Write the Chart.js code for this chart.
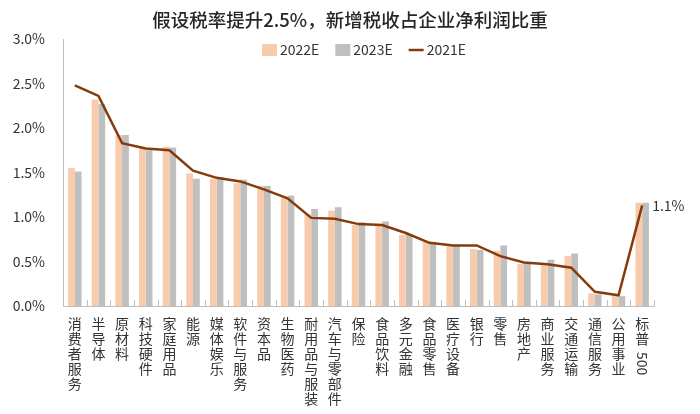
<!DOCTYPE html>
<html>
<head>
<meta charset="utf-8">
<script src="https://cdn.jsdelivr.net/npm/chart.js@4.4.0/dist/chart.umd.min.js"></script>
<style>
  html, body { margin: 0; padding: 0; background: #fff; }
  #wrap { width: 700px; height: 414px; }
</style>
</head>
<body>
<div id="wrap"><canvas id="taxChart"></canvas></div>
<script>
var sectors = ["消费者服务", "半导体", "原材料", "科技硬件", "家庭用品", "能源", "媒体娱乐", "软件与服务",
  "资本品", "生物医药", "耐用品与服装", "汽车与零部件", "保险", "食品饮料", "多元金融", "食品零售",
  "医疗设备", "银行", "零售", "房地产", "商业服务", "交通运输", "通信服务", "公用事业", "标普500"];
var share2022 = [1.55, 2.32, 1.92, 1.78, 1.79, 1.49, 1.43, 1.38, 1.35, 1.22, 1.03, 1.07, 0.91,
  0.90, 0.80, 0.72, 0.67, 0.64, 0.62, 0.47, 0.46, 0.56, 0.14, 0.11, 1.16];
var share2023 = [1.51, 2.27, 1.92, 1.75, 1.78, 1.43, 1.45, 1.42, 1.35, 1.24, 1.09, 1.11, 0.94,
  0.95, 0.81, 0.72, 0.68, 0.63, 0.68, 0.48, 0.52, 0.59, 0.13, 0.11, 1.16];
var share2021 = [2.48, 2.36, 1.83, 1.77, 1.75, 1.52, 1.44, 1.40, 1.31, 1.21, 0.99, 0.98, 0.92,
  0.91, 0.82, 0.71, 0.68, 0.68, 0.56, 0.49, 0.47, 0.43, 0.16, 0.12, 1.13];
var yMin = 0, yMax = 3, yStep = 0.5;
var chartTitle = "假设税率提升2.5%，新增税收占企业净利润比重";

var fontFamily = "'Noto Sans CJK SC', 'Noto Sans', sans-serif";
var textColor = "#333333";
var axisColor = "#bfbfbf";

// vertical labels: one character per line, "500" is drawn sideways by the plugin
function stackLabel(s) {
  if (s === "标普500") return ["标", "普"];
  return s.split("");
}

var extras = {
  id: "extras",
  afterDraw: function(chart) {
    var ctx = chart.ctx;
    var x = chart.scales.x;
    var area = chart.chartArea;
    var last = sectors.length - 1;

    // title, centred on the canvas
    ctx.save();
    ctx.fillStyle = "#262626";
    ctx.font = "500 18.5px " + fontFamily;
    ctx.textAlign = "center";
    ctx.textBaseline = "middle";
    ctx.fillText(chartTitle, chart.width / 2, 20);
    ctx.restore();

    // legend in one row inside the plot
    ctx.save();
    ctx.font = "14px " + fontFamily;
    ctx.textBaseline = "middle";
    var lx = 262, ly = 50;
    [0, 1, 2].forEach(function(i) {
      var ds = chart.data.datasets[i];
      if (ds.type === "line") {
        ctx.strokeStyle = ds.borderColor;
        ctx.lineWidth = ds.borderWidth;
        ctx.beginPath();
        ctx.moveTo(lx, ly);
        ctx.lineTo(lx + 15, ly);
        ctx.stroke();
      } else {
        ctx.fillStyle = ds.backgroundColor;
        ctx.fillRect(lx, ly - 6, 15, 12);
      }
      ctx.fillStyle = textColor;
      ctx.fillText(ds.label, lx + 18, ly);
      lx += 18 + ctx.measureText(ds.label).width + 16;
    });
    ctx.restore();

    // small tick marks between categories, pointing up
    ctx.save();
    ctx.strokeStyle = axisColor;
    ctx.lineWidth = 1;
    for (var i = 0; i <= sectors.length; i++) {
      var px = Math.round(x.getPixelForValue(i - 0.5)) + 0.5;
      ctx.beginPath();
      ctx.moveTo(px, area.bottom);
      ctx.lineTo(px, area.bottom - 6);
      ctx.stroke();
    }
    ctx.restore();

    // sideways "500"
    ctx.save();
    ctx.fillStyle = textColor;
    ctx.font = "14px " + fontFamily;
    ctx.translate(x.getPixelForValue(last), area.bottom + 46);
    ctx.rotate(Math.PI / 2);
    ctx.textAlign = "left";
    ctx.textBaseline = "middle";
    ctx.fillText("500", 0, 0);
    ctx.restore();

    // value label on the last point of the line
    var pt = chart.getDatasetMeta(2).data[last];
    ctx.save();
    ctx.fillStyle = textColor;
    ctx.font = "14px " + fontFamily;
    ctx.textAlign = "left";
    ctx.textBaseline = "middle";
    ctx.fillText(share2021[last].toFixed(1) + "%", pt.x + 10, pt.y);
    ctx.restore();
  }
};

new Chart(document.getElementById("taxChart"), {
  data: {
    labels: sectors.map(stackLabel),
    datasets: [
      { type: "bar", label: "2022E", data: share2022, backgroundColor: "#f8cbad",
        order: 1, categoryPercentage: 0.57, barPercentage: 1 },
      { type: "bar", label: "2023E", data: share2023, backgroundColor: "#bfbfbf",
        order: 1, categoryPercentage: 0.57, barPercentage: 1 },
      { type: "line", label: "2021E", data: share2021, borderColor: "#843c0c",
        backgroundColor: "#843c0c", borderWidth: 2.5, pointRadius: 0,
        tension: 0, order: 0 }
    ]
  },
  options: {
    responsive: true,
    maintainAspectRatio: false,
    animation: false,
    devicePixelRatio: 1,
    layout: { padding: { left: 0, right: 46, top: 39, bottom: 0 } },
    plugins: {
      title: { display: false },
      legend: { display: false },
      tooltip: { enabled: false }
    },
    scales: {
      x: {
        offset: true,
        grid: { display: false, drawTicks: false },
        border: { color: axisColor },
        ticks: {
          maxRotation: 0, minRotation: 0, autoSkip: false, padding: 10,
          color: textColor,
          font: { family: fontFamily, size: 14, lineHeight: 15 / 14 }
        },
        afterFit: function(s) { s.height = 108; }
      },
      y: {
        min: yMin, max: yMax,
        grid: { display: false, drawTicks: false },
        border: { color: axisColor },
        ticks: {
          stepSize: yStep, padding: 18,
          color: textColor,
          font: { family: fontFamily, size: 14 },
          callback: function(v) { return v.toFixed(1) + "%"; }
        },
        afterFit: function(s) { s.width = 63; }
      }
    }
  },
  plugins: [extras]
});
</script>
</body>
</html>
